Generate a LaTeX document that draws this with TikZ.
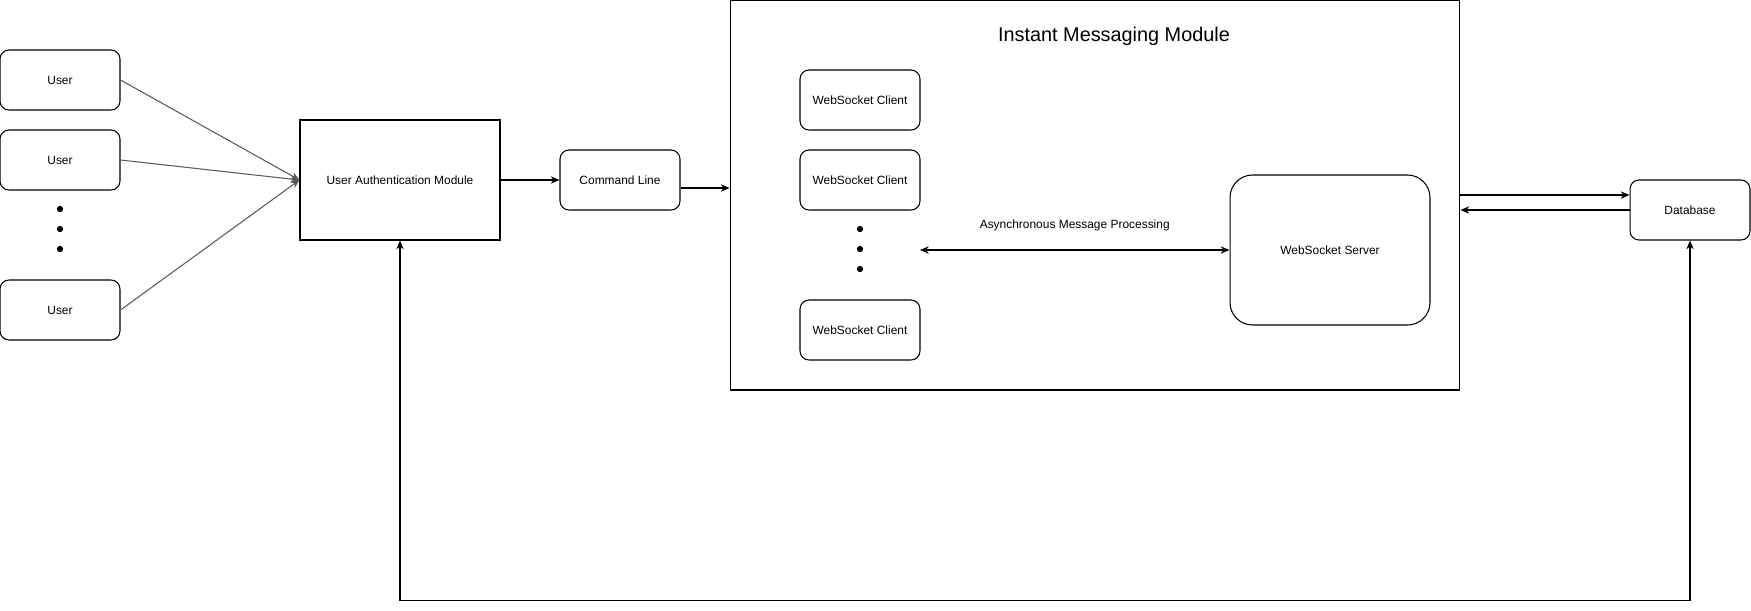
\documentclass[tikz,border=0pt]{standalone}
\usepackage{fontspec}
\setmainfont{Liberation Sans}
\usetikzlibrary{positioning,arrows.meta,calc}

\begin{document}
\begin{tikzpicture}[x=0.02cm, y=-0.02cm,
    font=\fontsize{6.8}{8}\selectfont,
    rbox/.style={draw, rounded corners=0.18cm, minimum width=2.4cm, minimum height=1.2cm, line width=0.6pt, inner sep=0pt},
    sbox/.style={draw, minimum width=4cm, minimum height=2.4cm, line width=0.6pt},
    dot/.style={circle, fill=black, inner sep=0pt, minimum size=3.6pt},
    arr/.style={-{Stealth[length=5pt,width=4.2pt]}, line width=0.6pt},
    darr/.style={{Stealth[length=5pt,width=4.2pt]}-{Stealth[length=5pt,width=4.2pt]}, line width=0.6pt},
    garr/.style={arr, draw=black!65}]
    \useasboundingbox (0,0) rectangle (1751,610);
    % users
    \node[rbox] (user1) at (60,80) {User};
    \node[rbox] (user2) at (60,160) {User};
    \node[rbox] (user3) at (60,310) {User};
    \foreach \i/\y in {1/209, 2/229, 3/249} {
        \node[dot] (udot\i) at (60,\y) {};
    }
    % authentication and command line
    \node[sbox] (auth) at (400,180) {User Authentication Module};
    \node[rbox] (cmd) at (620,180) {Command Line};
    % instant messaging module
    \node[draw, line width=0.6pt, minimum width=14.6cm, minimum height=7.8cm] (imm) at (1095,195) {};
    \node[font=\fontsize{11.3}{13}\selectfont] (immtitle) at (1114,36) {Instant Messaging Module};
    \foreach \i/\y in {1/100, 2/180, 3/330} {
        \node[rbox] (client\i) at (860,\y) {WebSocket Client};
    }
    \foreach \i/\y in {1/229, 2/249, 3/269} {
        \node[dot] (cdot\i) at (860,\y) {};
    }
    \node[rbox, rounded corners=0.45cm, minimum width=4cm, minimum height=3cm] (server) at (1330,250) {WebSocket Server};
    % database
    \node[rbox] (db) at (1690,210) {Database};

    % connectors
    \foreach \i in {1,2,3} {
        \draw[garr] (user\i.east) -- (auth.west);
    }
    \draw[arr] (auth) -- (cmd);
    \coordinate (cmdout) at ($(cmd.east)+(0,8)$);
    \draw[arr] (cmdout) -- (cmdout -| imm.west);
    \coordinate (cend) at (920,250);
    \draw[darr] (cend) -- (server.west) node[midway, yshift=0.5cm] (async) {Asynchronous Message Processing};
    \coordinate (dbin) at ($(db.west)+(0,-15)$);
    \draw[arr] (dbin -| imm.east) -- (dbin);
    \draw[arr] (db.west) -- (db.west -| imm.east);
    \draw[darr] (auth.south) -- ++(0,360) -| (db.south);
\end{tikzpicture}
\end{document}
